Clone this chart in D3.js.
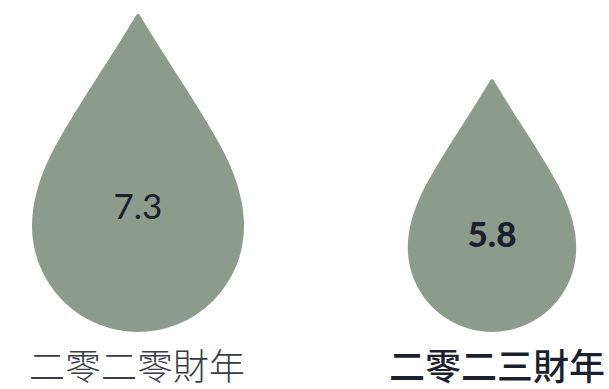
<!DOCTYPE html>
<html>
<head>
<meta charset="utf-8">
<script src="https://cdnjs.cloudflare.com/ajax/libs/d3/7.8.5/d3.min.js"></script>
<style>
  html, body { margin: 0; padding: 0; background: #ffffff; }
  #chart { width: 609px; height: 389px; }
</style>
</head>
<body>
<div id="chart"></div>
<script>
// data
var years = ['二零二零財年', '二零二三財年'];
var values = [7.3, 5.8];
var valueLabels = ['7.3', '5.8'];

var svgWidth = 609, svgHeight = 389;
var svg = d3.select('#chart')
    .append('svg')
    .attr('width', svgWidth)
    .attr('height', svgHeight);

// x position of each drop
var xScale = d3.scalePoint()
    .domain(years)
    .range([138, 492]);
// label positions (right label sits a little right of its drop)
var labelScale = d3.scalePoint()
    .domain(years)
    .range([137, 497]);

// drop height (tip to bottom) proportional to value
var hScale = d3.scaleLinear()
    .domain([0, d3.max(values)])
    .range([0, 318]);

// baseline of the value text
var textY = d3.scaleLinear()
    .domain(d3.extent(values))
    .range([246.5, 218.5]);

var baseY = 332;   // bottom of drops
var fill = '#8c9c8c';
var sw = 4;        // stroke used to round the tip

// teardrop: round bottom of radius r, tip 2r above the centre, curved sides
function dropPath(cx, h) {
    var r = h / 3;
    var cy = baseY - r;
    var R = r - sw / 2;
    var tip = [cx, cy - 2 * r + sw / 2];
    var p = d3.path();
    p.moveTo(tip[0], tip[1]);
    // right side
    p.bezierCurveTo(cx + 0.55 * R, cy - 1.1 * R, cx + R, cy - 0.6 * R, cx + R, cy);
    // bottom
    p.arc(cx, cy, R, 0, Math.PI, false);
    // left side
    p.bezierCurveTo(cx - R, cy - 0.6 * R, cx - 0.55 * R, cy - 1.1 * R, tip[0], tip[1]);
    p.closePath();
    return p.toString();
}

var g = svg.append('g');

g.selectAll('path.drop')
    .data(values)
    .enter()
    .append('path')
    .attr('class', 'drop')
    .attr('d', function (d, i) { return dropPath(xScale(years[i]), hScale(d)); })
    .attr('fill', fill)
    .attr('stroke', fill)
    .attr('stroke-width', sw)
    .attr('stroke-linejoin', 'round');

// values inside the drops
g.selectAll('text.val')
    .data(values)
    .enter()
    .append('text')
    .attr('class', 'val')
    .attr('x', function (d, i) { return xScale(years[i]); })
    .attr('y', function (d) { return textY(d); })
    .attr('text-anchor', 'middle')
    .style('font-family', 'Lato, "Open Sans", sans-serif')
    .style('font-size', '35px')
    .style('font-weight', function (d, i) { return i === 1 ? 900 : 400; })
    .style('fill', '#1b1f2e')
    .text(function (d, i) { return valueLabels[i]; });

// year labels
g.selectAll('text.year')
    .data(years)
    .enter()
    .append('text')
    .attr('class', 'year')
    .attr('x', function (d) { return labelScale(d); })
    .attr('y', 380)
    .attr('text-anchor', 'middle')
    .style('font-family', '"Noto Sans CJK TC", "Noto Sans CJK SC", sans-serif')
    .style('font-size', '36px')
    .style('font-weight', function (d, i) { return i === 1 ? 500 : 300; })
    .style('fill', function (d, i) { return i === 1 ? '#1b1f2e' : '#3a3c44'; })
    .text(function (d) { return d; });
</script>
</body>
</html>
